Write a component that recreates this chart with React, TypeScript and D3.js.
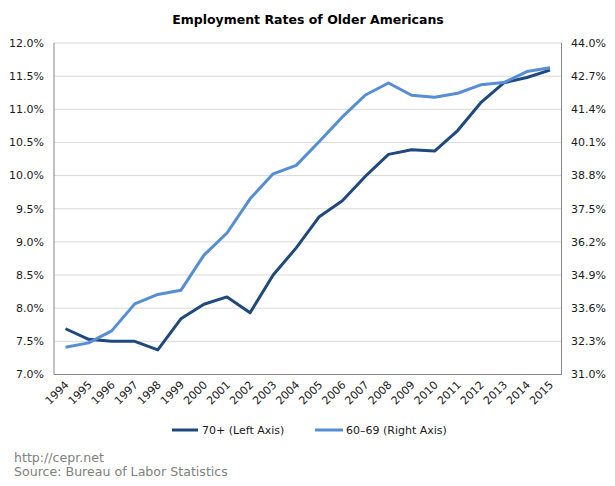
import React from "react";
import * as d3 from "d3";

const years = ["1994","1995","1996","1997","1998","1999","2000","2001","2002","2003","2004","2005","2006","2007","2008","2009","2010","2011","2012","2013","2014","2015"];
const age70plus = [7.69,7.53,7.50,7.50,7.37,7.84,8.06,8.17,7.93,8.50,8.91,9.38,9.62,9.99,10.32,10.39,10.37,10.68,11.10,11.40,11.48,11.59];
const age6069 = [32.07,32.24,32.71,33.77,34.14,34.30,35.68,36.55,37.89,38.87,39.20,40.14,41.10,41.96,42.43,41.95,41.87,42.03,42.36,42.45,42.88,43.03];
const leftTicks = [7.0,7.5,8.0,8.5,9.0,9.5,10.0,10.5,11.0,11.5,12.0];
const rightTicks = [31.0,32.3,33.6,34.9,36.2,37.5,38.8,40.1,41.4,42.7,44.0];
const title = "Employment Rates of Older Americans";
const seriesNames = ["70+ (Left Axis)", "60–69 (Right Axis)"];
const footer = ["http://cepr.net", "Source: Bureau of Labor Statistics"];

const W = 615, H = 486;
const L = 54, R = 561.5, T = 43, B = 374.5;
const FONT = "'DejaVu Sans', Verdana, sans-serif";
const DARK = "#1F497D";
const LIGHT = "#558ED5";

export default function App() {
  const x = d3.scaleBand<string>().domain(years).range([L, R]);
  const cx = (y: string) => (x(y) as number) + x.bandwidth() / 2;
  const yL = d3.scaleLinear().domain([7, 12]).range([B, T]);
  const yR = d3.scaleLinear().domain([31, 44]).range([B, T]);
  const lineL = d3.line<number>().x((_, i) => cx(years[i])).y((d) => yL(d));
  const lineR = d3.line<number>().x((_, i) => cx(years[i])).y((d) => yR(d));

  return (
    <svg width={W} height={H} style={{ position: "absolute", left: 0, top: 0, background: "#fff" }} fontFamily={FONT}>
      <rect x={0} y={0} width={W} height={H} fill="#fff" />
      <text x={308} y={24} textAnchor="middle" fontSize={12.5} fontWeight="bold" fill="#000">{title}</text>
      {leftTicks.map((t) => (
        <line key={"g" + t} x1={L} x2={R} y1={yL(t)} y2={yL(t)} stroke="#d9d9d9" strokeWidth={1} />
      ))}
      <line x1={L} x2={L} y1={T} y2={B} stroke="#868686" strokeWidth={1} />
      <line x1={R} x2={R} y1={T} y2={B} stroke="#868686" strokeWidth={1} />
      <line x1={L} x2={R} y1={B} y2={B} stroke="#868686" strokeWidth={1} />
      {leftTicks.map((t) => (
        <text key={"l" + t} x={44} y={yL(t)} dy="0.35em" textAnchor="end" fontSize={11} fill="#1a1a1a">{t.toFixed(1) + "%"}</text>
      ))}
      {rightTicks.map((t) => (
        <text key={"r" + t} x={571} y={yR(t)} dy="0.35em" textAnchor="start" fontSize={11} fill="#1a1a1a">{t.toFixed(1) + "%"}</text>
      ))}
      {years.map((yr) => (
        <text key={yr} transform={`translate(${cx(yr) + 4},${B + 11}) rotate(-45)`} textAnchor="end" fontSize={11} fill="#1a1a1a">{yr}</text>
      ))}
      <path d={lineL(age70plus) || ""} fill="none" stroke={DARK} strokeWidth={3} strokeLinejoin="round" />
      <path d={lineR(age6069) || ""} fill="none" stroke={LIGHT} strokeWidth={3} strokeLinejoin="round" />
      <line x1={172} x2={198} y1={430} y2={430} stroke={DARK} strokeWidth={3} />
      <text x={202} y={430} dy="0.35em" fontSize={11} fill="#1a1a1a">{seriesNames[0]}</text>
      <line x1={315} x2={343} y1={430} y2={430} stroke={LIGHT} strokeWidth={3} />
      <text x={346} y={430} dy="0.35em" fontSize={11} fill="#1a1a1a">{seriesNames[1]}</text>
      <text x={14} y={462} fontSize={12.6} fill="#808080">{footer[0]}</text>
      <text x={14} y={476} fontSize={12.6} fill="#808080">{footer[1]}</text>
    </svg>
  );
}
